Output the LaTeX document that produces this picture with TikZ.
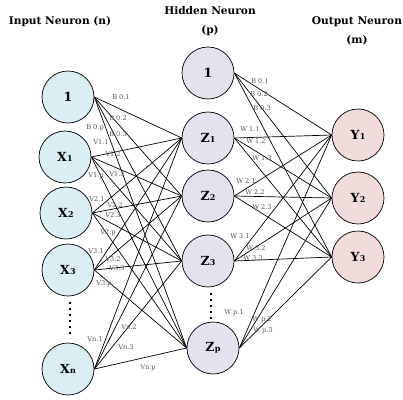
\documentclass[tikz,border=0pt]{standalone}
\usepackage{fontspec}
\setmainfont{DejaVu Serif}
\definecolor{infill}{HTML}{DAEEF3}
\definecolor{hidfill}{HTML}{E6E1EE}
\definecolor{outfill}{HTML}{F2DCDB}
\definecolor{wgray}{HTML}{555555}
\newcommand\nsub[2]{#1\kern0.3pt\raisebox{-0.3pt}{\fontsize{8}{8}\selectfont #2}}
\begin{document}
\begin{tikzpicture}[x=1pt,y=-1pt,
  neuron/.style={circle, draw, line width=0.7pt, minimum size=52pt, inner sep=0pt,
                 font=\bfseries\fontsize{12.5}{13}\selectfont},
  inneuron/.style={neuron, fill=infill},
  hidneuron/.style={neuron, fill=hidfill},
  outneuron/.style={neuron, fill=outfill},
  title/.style={font=\bfseries\fontsize{10.6}{19}\selectfont, align=center, inner sep=0pt},
  wlabel/.style={font=\fontsize{6.6}{7}\selectfont, text=wgray, inner sep=0pt},
  link/.style={line width=0.7pt},
  ellipsisline/.style={line width=1.4pt, dash pattern=on 1.4pt off 4.6pt}]
\useasboundingbox (0,0) rectangle (403,399);

% column titles
\node[title] (tin) at (60,22) {Input Neuron (n)};
\node[title] (thid) at (210,21) {Hidden Neuron\\(p)};
\node[title] (tout) at (357,31) {Output Neuron\\(m)};

% input layer
\node[inneuron] (i0) at (68,97) {1};
\node[inneuron] (i1) at (65,157) {\nsub{X}{1}};
\node[inneuron] (i2) at (66,213) {\nsub{X}{2}};
\node[inneuron] (i3) at (68,270) {\nsub{X}{3}};
\node[inneuron] (in) at (68,369) {\nsub{X}{n}};

% hidden layer
\node[hidneuron] (h0) at (208,73) {1};
\node[hidneuron] (h1) at (208,138) {\nsub{Z}{1}};
\node[hidneuron] (h2) at (208,196) {\nsub{Z}{2}};
\node[hidneuron] (h3) at (208,261) {\nsub{Z}{3}};
\node[hidneuron] (hp) at (213,348) {\nsub{Z}{p}};

% output layer
\node[outneuron] (o1) at (358,135) {\nsub{Y}{1}};
\node[outneuron] (o2) at (358,198) {\nsub{Y}{2}};
\node[outneuron] (o3) at (358,257) {\nsub{Y}{3}};

% elided neurons
\draw[ellipsisline] (i3.south) ++(2,6) coordinate (ia) -- ++(0,36) coordinate (ib);
\draw[ellipsisline] (h3.south) ++(3,6) coordinate (ha) -- ++(0,26) coordinate (hb);

% input -> hidden connections
\foreach \s in {i0,i1,i2,i3,in}
  \foreach \t in {h1,h2,h3,hp}
    \draw[link] (\s.east) -- (\t.west);

% hidden -> output connections
\foreach \s in {h0,h1,h2,h3,hp}
  \foreach \t in {o1,o2,o3}
    \draw[link] (\s.east) -- (\t.west);

% input-side weights
\node[wlabel] (b01) at (121,97) {B 0.1};
\node[wlabel] (b02) at (118,118) {B 0.2};
\node[wlabel] (b0p) at (95,128) {B 0.p};
\node[wlabel] (b03) at (118,134) {B 0.3};
\node[wlabel] (v11) at (101,142) {V1.1};
\node[wlabel] (v12) at (113,154) {V1.2};
\node[wlabel] (v13) at (117,174) {V1.3};
\node[wlabel] (v1p) at (96,176) {V1.p};
\node[wlabel] (v21) at (97,199) {V2.1};
\node[wlabel] (v22) at (115,205) {V2.2};
\node[wlabel] (v23) at (113,215) {V2.3};
\node[wlabel] (v2p) at (108,233) {V2.p};
\node[wlabel] (v31) at (96,251) {V3.1};
\node[wlabel] (v32) at (113,259) {V3.2};
\node[wlabel] (v33) at (117,268) {V3.3};
\node[wlabel] (v3p) at (104,284) {V3.p};
\node[wlabel] (vn2) at (129,327) {Vn.2};
\node[wlabel] (vn1) at (95,339) {Vn.1};
\node[wlabel] (vn3) at (126,347) {Vn.3};
\node[wlabel] (vnp) at (148,368) {Vn.p};

% hidden-side weights
\node[wlabel] (c01) at (260,81) {B 0.1};
\node[wlabel] (c02) at (259,94) {B 0.2};
\node[wlabel] (c03) at (262,108) {B 0.3};
\node[wlabel] (w11) at (250,129) {W 1.1};
\node[wlabel] (w12) at (256,141) {W 1.2};
\node[wlabel] (w13) at (262,158) {W 1.3};
\node[wlabel] (w21) at (246,181) {W 2.1};
\node[wlabel] (w22) at (255,192) {W 2.2};
\node[wlabel] (w23) at (262,207) {W 2.3};
\node[wlabel] (w31) at (240,236) {W 3.1};
\node[wlabel] (w32) at (256,248) {W 3.2};
\node[wlabel] (w33) at (253,258) {W 3.3};
\node[wlabel] (wp1) at (234,313) {W p.1};
\node[wlabel] (wp2) at (262,320) {W p.2};
\node[wlabel] (wp3) at (263,331) {W p.3};
\end{tikzpicture}
\end{document}
